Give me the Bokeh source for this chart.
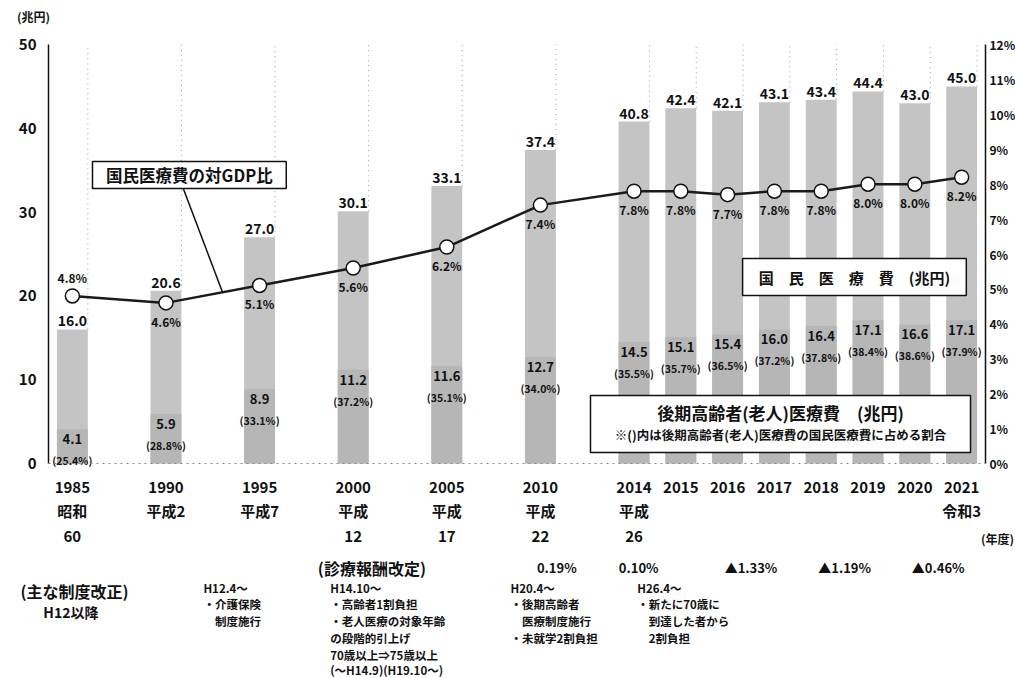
from bokeh.plotting import figure
from bokeh.models import (ColumnDataSource, Range1d, LinearAxis, FixedTicker,
                          PrintfTickFormatter, Span)
from bokeh.layouts import column
from bokeh.core.properties import value
from bokeh.embed import file_html
from bokeh.resources import INLINE

# ---------------- data ----------------
years = ["1985", "1990", "1995", "2000", "2005", "2010", "2014",
         "2015", "2016", "2017", "2018", "2019", "2020", "2021"]
era_line2 = ["昭和", "平成2", "平成7", "平成", "平成", "平成", "平成",
             "", "", "", "", "", "", "令和3"]
era_line3 = ["60", "", "", "12", "17", "22", "26",
             "", "", "", "", "", "", ""]
total_cost = [16.0, 20.6, 27.0, 30.1, 33.1, 37.4, 40.8,
              42.4, 42.1, 43.1, 43.4, 44.4, 43.0, 45.0]
elderly_cost = [4.1, 5.9, 8.9, 11.2, 11.6, 12.7, 14.5,
                15.1, 15.4, 16.0, 16.4, 17.1, 16.6, 17.1]
elderly_share = ["25.4", "28.8", "33.1", "37.2", "35.1", "34.0", "35.5",
                 "35.7", "36.5", "37.2", "37.8", "38.4", "38.6", "37.9"]
gdp_ratio = [4.8, 4.6, 5.1, 5.6, 6.2, 7.4, 7.8,
             7.8, 7.7, 7.8, 7.8, 8.0, 8.0, 8.2]

revision_labels = ["(診療報酬改定)", "0.19%", "0.10%", "▲1.33%", "▲1.19%", "▲0.46%"]
notes_h12 = ["H12.4～", "・介護保険", "　制度施行"]
notes_h14 = ["H14.10～", "・高齢者1割負担", "・老人医療の対象年齢",
             "の段階的引上げ", "70歳以上⇒75歳以上", "(～H14.9)(H19.10～)"]
notes_h20 = ["H20.4～", "・後期高齢者", "　医療制度施行", "・未就学2割負担"]
notes_h26 = ["H26.4～", "・新たに70歳に", "　到達した者から", "　2割負担"]

# ---------------- layout helpers ----------------
n = len(years)
xpos = [2 * i if i <= 6 else 12 + (i - 6) for i in range(n)]  # 5-year steps wide, yearly steps narrow
BAR_W = 0.66
PCT_SCALE = 50 / 12  # left axis 50 <-> right axis 12%
FONT = "Noto Sans CJK JP"
W = 1015
FRAME_L, FRAME_W = 48, 937
X0, X1 = -0.51, 19.51
PPU = FRAME_W / (X1 - X0)
XF0, XF1 = X0 - FRAME_L / PPU, X0 + (W - FRAME_L) / PPU   # full-width strips aligned with chart

src = ColumnDataSource(dict(
    x=xpos,
    right_edge=[x + BAR_W / 2 for x in xpos],
    total=total_cost,
    elderly=elderly_cost,
    total_lbl=[f"{v:.1f}" for v in total_cost],
    eld_lbl=[f"{v:.1f}" for v in elderly_cost],
    share_lbl=[f"({s}%)" for s in elderly_share],
    gdp=gdp_ratio,
    year=years, era2=era_line2, era3=era_line3,
    top=[50] * n,
))

txt = dict(text_font=value(FONT), text_font_style="bold", text_color="#111111", text_align="center")


def strip(height):
    f = figure(width=W, height=height, x_range=Range1d(XF0, XF1), y_range=Range1d(height, 0),
               x_axis_location=None, y_axis_location=None, toolbar_location=None,
               output_backend="svg", min_border=0, outline_line_color=None)
    f.grid.visible = False
    f.frame_align = False
    return f


# ---------------- top strip ----------------
top = strip(30)
top.text(x=[-0.83], y=[16], text=["(兆円)"], text_baseline="middle", text_font_size="12px", **txt)

# ---------------- chart ----------------
CH = 445
Y1 = (463 - 30) / 8.38
Y0 = -(30 + CH - 463) / 8.38
p = figure(frame_width=FRAME_W, frame_height=CH,
           x_range=Range1d(X0, X1), y_range=Range1d(Y0, Y1),
           x_axis_location=None, toolbar_location=None, output_backend="svg",
           min_border_left=FRAME_L, min_border_right=0, min_border_top=0, min_border_bottom=0,
           outline_line_color=None, background_fill_color="white")
p.frame_align = False
p.grid.visible = False
p.extra_y_ranges = {"pct": Range1d(Y0 / PCT_SCALE, Y1 / PCT_SCALE)}

yax = p.yaxis[0]
yax.ticker = FixedTicker(ticks=[0, 10, 20, 30, 40, 50])
yax.bounds = (0, 50)
yax.axis_line_width = 1.5
yax.axis_line_color = "#111111"
yax.major_tick_line_color = None
yax.major_tick_out = 0
yax.minor_tick_line_color = None
yax.major_label_text_font = FONT
yax.major_label_text_font_style = "bold"
yax.major_label_text_font_size = "15px"
yax.major_label_text_color = "#111111"
yax.major_label_standoff = 12

rax = LinearAxis(y_range_name="pct", ticker=FixedTicker(ticks=list(range(13))),
                 formatter=PrintfTickFormatter(format="%d%%"), bounds=(0, 12))
rax.axis_line_width = 1.5
rax.axis_line_color = "#111111"
rax.major_tick_line_color = None
rax.major_tick_out = 0
rax.major_tick_in = 0
rax.minor_tick_line_color = None
rax.minor_tick_out = 0
rax.major_label_text_font = FONT
rax.major_label_text_font_style = "bold"
rax.major_label_text_font_size = "12px"
rax.major_label_text_color = "#111111"
rax.major_label_standoff = 4
p.add_layout(rax, "right")

p.segment(x0="right_edge", y0="total", x1="right_edge", y1="top", source=src,
          line_color="#9a9a9a", line_dash="1 4", line_width=1)
p.add_layout(Span(location=0, dimension="width", line_color="#888888",
                  line_dash="2 4", line_width=1))

p.vbar(x="x", top="total", width=BAR_W, source=src, fill_color="#c4c4c4", line_color=None)
p.vbar(x="x", top="elderly", width=BAR_W, source=src, fill_color="#b6b6b6", line_color=None)

p.text(x="x", y="total", text="total_lbl", source=src, text_baseline="bottom",
       y_offset=-3, text_font_size="14px", **txt)
p.text(x="x", y="elderly", text="eld_lbl", source=src, text_baseline="top",
       y_offset=5, text_font_size="13px", **txt)
p.text(x="x", y="elderly", text="share_lbl", source=src, text_baseline="top",
       y_offset=24, text_font_size="10.5px", **txt)

p.line(x="x", y="gdp", source=src, y_range_name="pct", line_color="#1a1a1a", line_width=2.5)
p.scatter(x="x", y="gdp", source=src, y_range_name="pct", size=14,
          fill_color="white", line_color="#111111", line_width=1.5)
gdp_above = ColumnDataSource(dict(x=xpos[:1], gdp=gdp_ratio[:1], t=[f"{gdp_ratio[0]:.1f}%"]))
gdp_below = ColumnDataSource(dict(x=xpos[1:], gdp=gdp_ratio[1:], t=[f"{v:.1f}%" for v in gdp_ratio[1:]]))
p.text(x="x", y="gdp", text="t", source=gdp_above, y_range_name="pct",
       text_baseline="bottom", y_offset=-10, text_font_size="12px", **txt)
p.text(x="x", y="gdp", text="t", source=gdp_below, y_range_name="pct",
       text_baseline="top", y_offset=10, text_font_size="12px", **txt)

# callout box: GDP ratio
p.quad(left=[0.43], right=[4.57], bottom=[32.82], top=[36.04],
       fill_color="white", line_color="#111111", line_width=1.5)
p.text(x=[2.5], y=[34.43], text=["国民医療費の対GDP比"], text_baseline="middle",
       text_font_size="16.5px", **txt)
p.segment(x0=[2.37], y0=[32.82], x1=[3.21], y1=[20.4], line_color="#111111", line_width=1.5)

# legend box: national medical cost
p.quad(left=[14.32], right=[19.1], bottom=[20.05], top=[24.46],
       fill_color="white", line_color="#111111", line_width=1.5)
p.text(x=[16.71], y=[22.25], text=["国　民　医　療　費　(兆円)"], text_baseline="middle",
       text_font_size="15px", **txt)

# legend box: elderly medical cost
p.quad(left=[11.07], right=[19.19], bottom=[1.31], top=[8.11],
       fill_color="white", line_color="#111111", line_width=1.5)
p.text(x=[15.13], y=[6.09], text=["後期高齢者(老人)医療費　(兆円)"], text_baseline="middle",
       text_font_size="17px", **txt)
p.text(x=[15.13], y=[3.46], text=["※()内は後期高齢者(老人)医療費の国民医療費に占める割合"],
       text_baseline="middle", text_font_size="12.5px", **txt)

# ---------------- bottom strip ----------------
BH = 678 - 30 - CH
bot = strip(BH)
bot.text(x="x", y=12, text="year", source=src, text_baseline="middle", text_font_size="15px", **txt)
bot.text(x="x", y=35, text="era2", source=src, text_baseline="middle", text_font_size="15px", **txt)
bot.text(x="x", y=61, text="era3", source=src, text_baseline="middle", text_font_size="15px", **txt)
bot.text(x=[XF1 - 0.03], y=[63], text=["(年度)"], text_baseline="middle", text_font_size="12px",
         text_font=value(FONT), text_font_style="bold", text_color="#111111", text_align="right")

rev_x = [6.4, 10.35, 12.1, 14.5, 16.5, 18.5]
rev_src = ColumnDataSource(dict(x=rev_x, t=revision_labels,
                                fs=["16px", "13px", "13px", "13px", "13px", "13px"]))
bot.text(x="x", y=92, text="t", source=rev_src, text_baseline="middle", text_font_size="fs", **txt)

left_txt = dict(text_font=value(FONT), text_font_style="bold", text_color="#111111",
                text_align="left", text_baseline="middle")
bot.text(x=[-1.11], y=[115], text=["(主な制度改正)"], text_font_size="16px", **left_txt)
bot.text(x=[-0.62], y=[136], text=["H12以降"], text_font_size="14px", **left_txt)

row_y = [112, 128, 145, 162, 179, 194]
for left, notes in [(2.8, notes_h12), (5.51, notes_h14), (9.36, notes_h20), (12.07, notes_h26)]:
    s = ColumnDataSource(dict(x=[left] * len(notes), y=row_y[:len(notes)], t=notes))
    bot.text(x="x", y="y", text="t", source=s, text_font_size="11.5px", **left_txt)

layout = column(top, p, bot, spacing=0)
open("out.html", "w").write(file_html(layout, INLINE))
